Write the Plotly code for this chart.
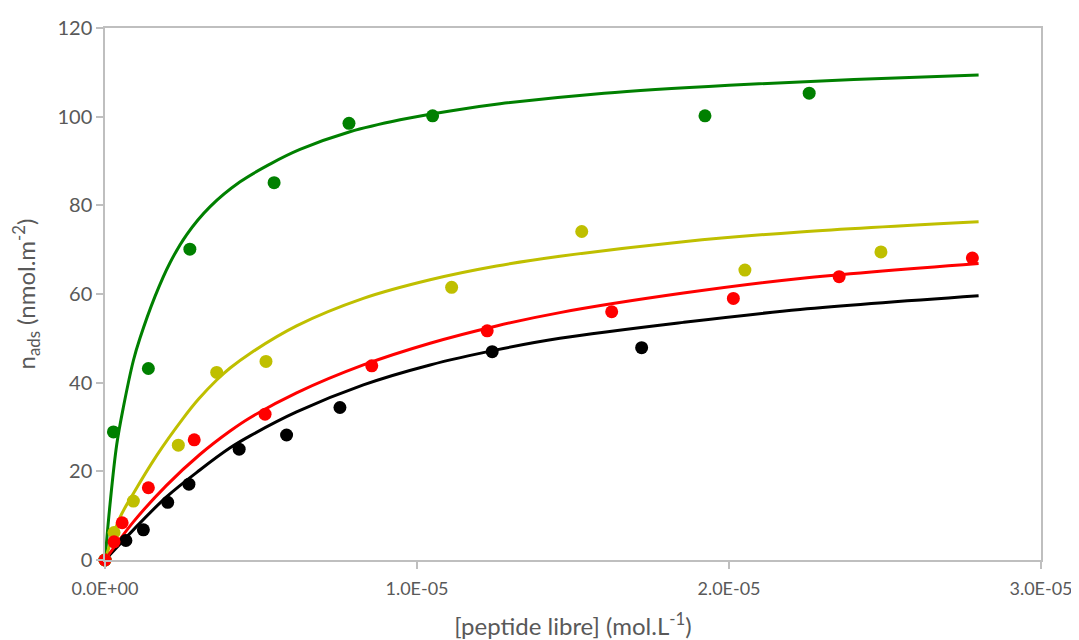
import plotly.graph_objects as go

# ---- measured points (x in mol/L, y in nmol/m2) ----
green_x = [0.0, 0.27e-6, 1.39e-6, 2.72e-6, 5.42e-6, 7.82e-6, 10.50e-6, 19.23e-6, 22.57e-6]
green_y = [0.0, 28.9, 43.2, 70.1, 85.1, 98.5, 100.2, 100.2, 105.3]

yellow_x = [0.0, 0.29e-6, 0.91e-6, 2.35e-6, 3.58e-6, 5.16e-6, 11.11e-6, 15.28e-6, 20.51e-6, 24.87e-6]
yellow_y = [0.0, 6.2, 13.3, 25.9, 42.3, 44.8, 61.5, 74.1, 65.4, 69.5]

red_x = [0.0, 0.29e-6, 0.55e-6, 1.39e-6, 2.86e-6, 5.13e-6, 8.55e-6, 12.25e-6, 16.24e-6, 20.14e-6, 23.53e-6, 27.80e-6]
red_y = [0.0, 4.1, 8.4, 16.3, 27.1, 32.9, 43.8, 51.7, 56.0, 59.0, 63.9, 68.1]

black_x = [0.0, 0.67e-6, 1.23e-6, 2.01e-6, 2.69e-6, 4.30e-6, 5.82e-6, 7.53e-6, 12.41e-6, 17.20e-6]
black_y = [0.0, 4.4, 6.8, 13.0, 17.1, 25.0, 28.2, 34.4, 47.0, 47.9]

# ---- fitted curves ----
green_fit_x = [0.0, 0.16e-6, 0.375e-6, 0.59e-6, 0.91e-6, 1.12e-6, 1.60e-6, 2.08e-6, 2.62e-6, 3.37e-6,
               4.33e-6, 5.29e-6, 6.25e-6, 7.85e-6, 9.46e-6, 11.06e-6, 12.66e-6, 16.0e-6, 20.0e-6, 24.0e-6, 28.0e-6]
green_fit_y = [0.0, 12.5, 26.0, 34.5, 45.0, 50.0, 59.4, 67.0, 73.4, 79.7,
               85.3, 89.3, 92.6, 96.6, 99.3, 101.3, 102.9, 105.3, 107.1, 108.4, 109.4]

yellow_fit_x = [0.0, 0.48e-6, 0.91e-6, 1.66e-6, 2.51e-6, 3.0e-6, 3.58e-6, 4.01e-6, 4.65e-6, 6.14e-6, 8.28e-6, 10.42e-6,
                12.55e-6, 14.58e-6, 18.54e-6, 22.28e-6, 28.0e-6]
yellow_fit_y = [0.0, 9.6, 15.0, 23.6, 32.0, 36.3, 40.6, 43.3, 46.6, 52.8, 59.0, 63.2,
                66.3, 68.5, 71.8, 74.0, 76.3]

red_fit_x = [0.0, 0.91e-6, 1.98e-6, 3.04e-6, 4.01e-6, 4.65e-6, 6.14e-6, 8.28e-6, 10.42e-6, 12.55e-6,
             14.58e-6, 18.54e-6, 22.28e-6, 28.0e-6]
red_fit_y = [0.0, 8.6, 16.9, 23.8, 29.1, 32.1, 37.7, 44.0, 48.9, 52.8,
             55.8, 60.2, 63.5, 66.9]

black_fit_x = [0.0, 0.91e-6, 1.98e-6, 3.04e-6, 4.01e-6, 4.65e-6, 6.14e-6, 8.28e-6, 10.42e-6, 12.55e-6,
               14.58e-6, 18.54e-6, 22.28e-6, 28.0e-6]
black_fit_y = [0.0, 6.8, 14.3, 20.3, 25.3, 28.0, 33.4, 39.5, 44.0, 47.4,
               50.0, 53.6, 56.5, 59.6]

x_tick_vals = [0.0, 1e-5, 2e-5, 3e-5]
x_tick_text = ["0.0E+00", "1.0E-05", "2.0E-05", "3.0E-05"]
y_tick_vals = [0, 20, 40, 60, 80, 100, 120]

GREEN = "#008000"
YELLOW = "#BFBF00"
RED = "#FF0000"
BLACK = "#000000"

fig = go.Figure()

for fx, fy, c in [(black_fit_x, black_fit_y, BLACK), (green_fit_x, green_fit_y, GREEN),
                  (yellow_fit_x, yellow_fit_y, YELLOW), (red_fit_x, red_fit_y, RED)]:
    fig.add_trace(go.Scatter(x=fx, y=fy, mode="lines", line=dict(color=c, width=3, shape="spline", smoothing=1.0),
                             showlegend=False, hoverinfo="skip"))

for px, py, c in [(black_x, black_y, BLACK), (green_x, green_y, GREEN),
                  (yellow_x, yellow_y, YELLOW), (red_x, red_y, RED)]:
    fig.add_trace(go.Scatter(x=px, y=py, mode="markers", marker=dict(color=c, size=13, line=dict(width=0)),
                             showlegend=False, cliponaxis=False))

FONT = "Lato, 'Liberation Sans', sans-serif"
AX = "#BFBFBF"
TXT = "#595959"

# figure sized so that, with the page's 8px body margin, it fills the 1079x640 window exactly
fig.update_layout(
    width=1071, height=632,
    margin=dict(l=97, r=38, t=20, b=80, autoexpand=False),
    paper_bgcolor="white", plot_bgcolor="white",
    font=dict(family=FONT, size=19, color=TXT),
    xaxis=dict(range=[0, 3e-5], tickvals=x_tick_vals, ticktext=x_tick_text,
               showgrid=False, zeroline=False, showline=True, linecolor=AX, linewidth=1.5, mirror=True,
               ticks="outside", ticklen=7, tickcolor=AX, tickwidth=1.5, ticklabelstandoff=5,
               title=dict(text="[peptide libre] (mol.L<sup>-1</sup>)", font=dict(size=24, color=TXT), standoff=21),
               tickfont=dict(size=18, color=TXT)),
    yaxis=dict(range=[0, 120], tickvals=y_tick_vals,
               showgrid=False, zeroline=False, showline=True, linecolor=AX, linewidth=1.5, mirror=True,
               ticks="outside", ticklen=7, tickcolor=AX, tickwidth=1.5,
               title=dict(text="n<sub>ads</sub> (nmol.m<sup>-2</sup>)", font=dict(size=24, color=TXT), standoff=15),
               tickfont=dict(size=20, color=TXT)),
)

fig.write_html("out.html")
